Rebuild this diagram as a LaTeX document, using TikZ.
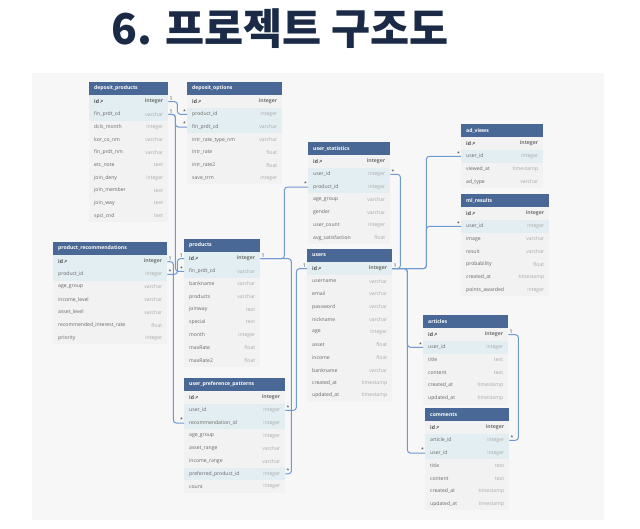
\documentclass[tikz,border=0pt]{standalone}
\usepackage{fontspec}
\setmainfont{Open Sans}
\newfontfamily\cjk{Noto Sans CJK KR}
\usetikzlibrary{positioning}
\usetikzlibrary{calc}

\definecolor{headblue}{HTML}{4A6895}
\definecolor{rowbg}{HTML}{F2F2F2}
\definecolor{rowhl}{HTML}{E3EEF2}
\definecolor{relblue}{HTML}{7099D2}
\definecolor{panelbg}{HTML}{F7F7F7}
\definecolor{titleblue}{HTML}{1B2A47}
\definecolor{fldgray}{HTML}{666666}
\definecolor{typgray}{HTML}{A8A8A8}

\newcommand{\tblfont}{\fontsize{5.1}{6}\selectfont}
\newcommand{\keyicon}{\tikz[x=1pt,y=1pt,baseline=0pt,line width=0.3pt]{\draw (2,2.6) circle (1); \draw (1.3,1.9) -- (0.2,0.8);}}

% #1 node name, #2 title, #3 x, #4 y, #5 width, #6 rows (field/type/highlight)
\newcommand{\dbtable}[6]{%
  \node[tblhead, minimum width=#5pt, anchor=north west] (#1) at (#3,#4) {};
  \node[headtxt] at (#1.west) {#2};
  \foreach \fld/\typ/\hl [count=\i] in {#6} {
    \ifnum\hl=1 \def\rowcol{rowhl}\else\def\rowcol{rowbg}\fi
    \node[tblrow, fill=\rowcol, minimum width=#5pt, anchor=north west] (#1-\i) at ($(#1.south west)+(0,{(\i-1)*12.7})$) {};
    \ifnum\i=1
      \node[fldtxt, font=\tblfont\bfseries, text=black!70] at (#1-\i.west) {\fld\,\keyicon};
      \node[typtxt, font=\tblfont\bfseries, text=black!55] at (#1-\i.east) {\typ};
    \else
      \node[fldtxt] at (#1-\i.west) {\fld};
      \node[typtxt] at (#1-\i.east) {\typ};
    \fi
  }
}

\begin{document}
\begin{tikzpicture}[x=1pt,y=-1pt]
  \tikzset{tblhead/.style = {fill=headblue, inner sep=0pt, minimum height=12.7pt},
    tblrow/.style = {inner sep=0pt, minimum height=12.7pt},
    headtxt/.style = {anchor=west, text=white, font=\tblfont\bfseries, inner xsep=5pt, inner ysep=0pt},
    fldtxt/.style = {anchor=west, text=fldgray, font=\tblfont, inner xsep=5pt, inner ysep=0pt},
    typtxt/.style = {anchor=east, text=typgray, font=\tblfont, inner xsep=5pt, inner ysep=0pt},
    rel/.style = {draw=relblue, line width=1pt, rounded corners=3pt},
    card/.style = {font=\tblfont, text=black!80, inner sep=0.6pt}}
  \useasboundingbox (0,0) rectangle (640,529);
  \fill[panelbg] (32,73) rectangle (604,520);
  \node[font=\cjk\bfseries\fontsize{42.5}{46}\selectfont, text=titleblue] (title) at (280,29) {6. 프로젝트 구조도};

  \dbtable{dp}{deposit\_products}{89}{82}{79}{id/integer/1, fin\_prdt\_cd/varchar/1, dcls\_month/integer/0, kor\_co\_nm/varchar/0, fin\_prdt\_nm/varchar/0, etc\_note/text/0, join\_deny/integer/0, join\_member/text/0, join\_way/text/0, spcl\_cnd/text/0}
  \dbtable{do}{deposit\_options}{187}{82}{95}{id/integer/0, product\_id/integer/1, fin\_prdt\_cd/varchar/1, intr\_rate\_type\_nm/varchar/0, intr\_rate/float/0, intr\_rate2/float/0, save\_trm/integer/0}
  \dbtable{pr}{product\_recommendations}{53}{242}{114}{id/integer/1, product\_id/integer/1, age\_group/varchar/0, income\_level/varchar/0, asset\_level/varchar/0, recommended\_interest\_rate/float/0, priority/integer/0}
  \dbtable{pd}{products}{184}{239}{76}{id/integer/1, fin\_prdt\_cd/varchar/1, bankname/varchar/0, products/varchar/0, joinway/text/0, special/text/0, month/integer/0, maxRate/float/0, maxRate2/float/0}
  \dbtable{us}{user\_statistics}{308}{142}{82}{id/integer/0, user\_id/integer/1, product\_id/integer/1, age\_group/varchar/0, gender/varchar/0, user\_count/integer/0, avg\_satisfaction/float/0}
  \dbtable{u}{users}{307}{249}{85}{id/integer/1, username/varchar/0, email/varchar/0, password/varchar/0, nickname/varchar/0, age/integer/0, asset/float/0, income/float/0, bankname/varchar/0, created\_at/timestamp/0, updated\_at/timestamp/0}
  \dbtable{upp}{user\_preference\_patterns}{184}{378}{101}{id/integer/0, user\_id/integer/1, recommendation\_id/integer/1, age\_group/integer/0, asset\_range/varchar/0, income\_range/varchar/0, preferred\_product\_id/integer/1, count/integer/0}
  \dbtable{av}{ad\_views}{461}{124}{82}{id/integer/0, user\_id/integer/1, viewed\_at/timestamp/0, ad\_type/varchar/0}
  \dbtable{ml}{ml\_results}{461}{194}{88}{id/integer/0, user\_id/integer/1, image/varchar/0, result/varchar/0, probability/float/0, created\_at/timestamp/0, points\_awarded/integer/0}
  \dbtable{ar}{articles}{423}{315}{85}{id/integer/0, user\_id/integer/1, title/text/0, content/text/0, created\_at/timestamp/0, updated\_at/timestamp/0}
  \dbtable{cm}{comments}{425}{408}{84}{id/integer/0, article\_id/integer/1, user\_id/integer/1, title/text/0, content/text/0, created\_at/timestamp/0, updated\_at/timestamp/0}

  % relations
  \draw[rel] (dp-1.east) node[card,anchor=south west]{1} -- ++(9,0) |- (do-2.west) node[card,anchor=south east]{*};
  \draw[rel] (dp-2.east) node[card,anchor=south west]{1} -- ++(7,0) |- (do-3.west) node[card,anchor=south east]{*};
  \draw[rel] (dp-2.east) -- ++(7,0) |- (pd-2.west) node[card,anchor=south east]{*};
  \draw[rel] (pr-2.east) node[card,anchor=south west]{*} -- ++(10,0) |- (pd-1.west) node[card,anchor=south east]{1};
  \draw[rel] (pr-1.east) node[card,anchor=south west]{1} -- ++(6,0) |- (upp-3.west) node[card,anchor=south east]{*};
  \draw[rel] (pd-1.east) node[card,anchor=south west]{1} -- ++(24,0) |- (us-3.west) node[card,anchor=south east]{*};
  \draw[rel] (pd-1.east) -- ++(31,0) |- (upp-7.east) node[card,anchor=south west]{*};
  \draw[rel] (upp-2.east) node[card,anchor=south west]{*} -- ++(11,0) |- (u-1.west) node[card,anchor=south east]{1};
  \draw[rel] (u-1.east) node[card,anchor=south west]{1} -- ++(8,0) |- (us-2.east) node[card,anchor=south west]{*};
  \draw[rel] (u-1.east) -- ++(34,0) |- (av-2.west) node[card,anchor=south east]{*};
  \draw[rel] (u-1.east) -- ++(34,0) |- (ml-2.west) node[card,anchor=south east]{*};
  \draw[rel] (u-1.east) -- ++(15,0) |- (ar-2.west) node[card,anchor=south east]{*};
  \draw[rel] (u-1.east) -- ++(15,0) |- (cm-3.west) node[card,anchor=south east]{*};
  \draw[rel] (ar-1.east) node[card,anchor=south west]{1} -- ++(10,0) |- (cm-2.east) node[card,anchor=south west]{*};
\end{tikzpicture}
\end{document}
